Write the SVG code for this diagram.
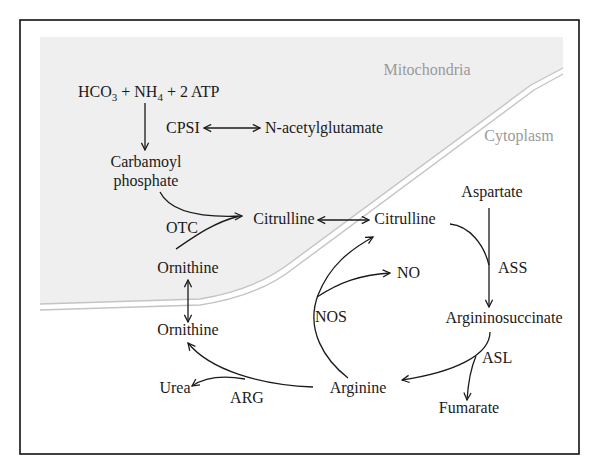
<svg xmlns="http://www.w3.org/2000/svg" width="600" height="475" viewBox="0 0 600 475">
<style>
text{font-family:"Liberation Serif","Times New Roman",serif;font-size:16px;fill:#1a1a1a}
.c{text-anchor:middle}
.g{fill:#9a9a9a}
.ln{fill:none;stroke:#1a1a1a;stroke-width:1.3}
.mem{fill:none;stroke:#c4c4c4;stroke-width:1.4}
</style>
<defs>
<marker id="ah" viewBox="0 0 10 10" refX="9" refY="5" markerWidth="9" markerHeight="9" markerUnits="userSpaceOnUse" orient="auto-start-reverse">
<path d="M1,1 L9,5 L1,9" fill="none" stroke="#1a1a1a" stroke-width="1.4"/>
</marker>
</defs>
<rect x="0" y="0" width="600" height="475" fill="#fff"/>
<g id="compartments">
<path d="M40,37 H563 V68 L531,85 L290,263 Q255,290 200,299 L40,304 Z" fill="#efefef"/>
<path class="mem" d="M40,304 L200,299 Q255,290 290,263 L531,85 L563,68"/>
<path class="mem" d="M40,310 L200,305 Q259,296 294,268 L534,90 L563,74"/>
<text id="mito" class="c g" x="427" y="75">Mitochondria</text>
<text id="cyto" class="c g" x="519" y="141">Cytoplasm</text>
</g>
<rect x="20" y="20" width="559" height="434" fill="none" stroke="#111" stroke-width="1.6"/>
<g id="connectors">
<line class="ln" x1="145" y1="103" x2="145" y2="150" marker-end="url(#ah)"/>
<line class="ln" x1="204" y1="128" x2="260" y2="128" marker-start="url(#ah)" marker-end="url(#ah)"/>
<path class="ln" d="M160,192 C170,212 200,218 242,216" marker-end="url(#ah)"/>
<path class="ln" d="M176,249 C195,236 215,222 238,216.5"/>
<line class="ln" x1="318" y1="220" x2="369" y2="220" marker-start="url(#ah)" marker-end="url(#ah)"/>
<line class="ln" x1="188" y1="280" x2="188" y2="322" marker-start="url(#ah)" marker-end="url(#ah)"/>
<line class="ln" x1="489" y1="208" x2="489" y2="307" marker-end="url(#ah)"/>
<path class="ln" d="M450,224 C470,226 484,245 489,265"/>
<path class="ln" d="M490,332 C490,355 455,372 402,380" marker-end="url(#ah)"/>
<path class="ln" d="M476,356 C470,370 468,385 467,400" marker-end="url(#ah)"/>
<path class="ln" d="M348,378 C325,360 305,330 318,295 C330,265 350,250 373,237" marker-end="url(#ah)"/>
<path class="ln" d="M317,297 C340,282 360,275 390,273" marker-end="url(#ah)"/>
<path class="ln" d="M313,387 C260,385 210,370 188,343" marker-end="url(#ah)"/>
<path class="ln" d="M245,379 C222,375 205,377 192,386" marker-end="url(#ah)"/>
</g>
<g id="substrates"><text x="78" y="97">HCO<tspan font-size="11" dy="4">3</tspan><tspan dy="-4"> + NH</tspan><tspan font-size="11" dy="4">4</tspan><tspan dy="-4"> + 2 ATP</tspan></text></g>
<g id="cpsi"><text x="166" y="133">CPSI</text></g>
<g id="nag"><text x="265" y="133">N-acetylglutamate</text></g>
<g id="carbamoyl"><text class="c" x="146" y="167">Carbamoyl</text><text class="c" x="146" y="186">phosphate</text></g>
<g id="otc"><text class="c" x="182" y="233">OTC</text></g>
<g id="citrulline-m"><text class="c" x="284" y="224">Citrulline</text></g>
<g id="citrulline-c"><text class="c" x="405" y="224">Citrulline</text></g>
<g id="ornithine-m"><text class="c" x="188" y="273">Ornithine</text></g>
<g id="ornithine-c"><text class="c" x="188" y="335">Ornithine</text></g>
<g id="aspartate"><text class="c" x="492" y="197">Aspartate</text></g>
<g id="ass"><text x="498" y="273">ASS</text></g>
<g id="argininosuccinate"><text class="c" x="504" y="323">Argininosuccinate</text></g>
<g id="asl"><text x="482" y="363">ASL</text></g>
<g id="fumarate"><text class="c" x="469" y="413">Fumarate</text></g>
<g id="arginine"><text class="c" x="358" y="393">Arginine</text></g>
<g id="nos"><text x="315" y="322">NOS</text></g>
<g id="no"><text x="397" y="278">NO</text></g>
<g id="urea"><text class="c" x="175" y="393">Urea</text></g>
<g id="arg"><text class="c" x="247" y="403">ARG</text></g>
</svg>
